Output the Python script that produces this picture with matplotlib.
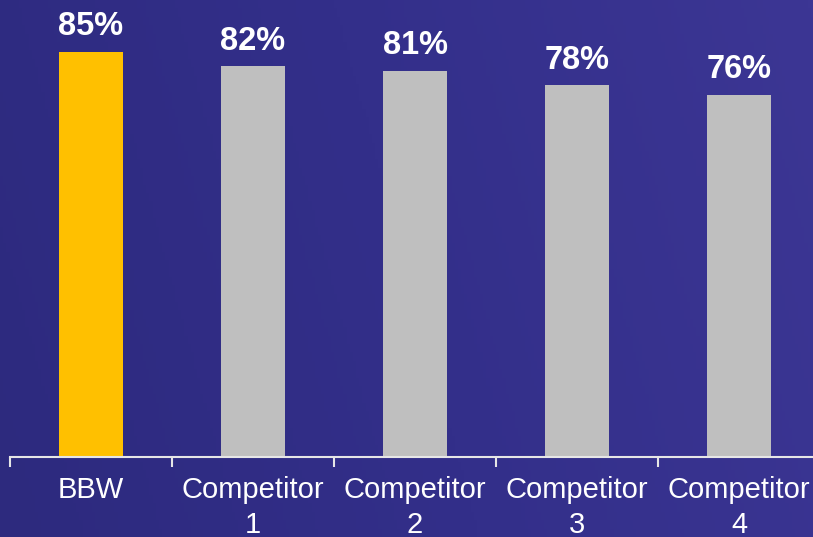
import numpy as np
import matplotlib
matplotlib.use("Agg")
import matplotlib.pyplot as plt
from matplotlib.colors import LinearSegmentedColormap

plt.rcParams['font.family'] = ['Liberation Sans', 'DejaVu Sans']

# data
categories = ['BBW', 'Competitor\n1', 'Competitor\n2', 'Competitor\n3', 'Competitor\n4']
values = [85, 82, 81, 78, 76]
bar_colors = ['#FFC000', '#BFBFBF', '#BFBFBF', '#BFBFBF', '#BFBFBF']

fig = plt.figure(figsize=(8.13, 5.37), dpi=100)

# gradient background
bg = fig.add_axes([0, 0, 1, 1], zorder=-1)
cmap = LinearSegmentedColormap.from_list('bg', ['#2D2A7E', '#332F8A', '#3C3694'])
gx = np.linspace(0, 1, 256)
gy = np.linspace(0, 1, 64)
grad = gx[None, :] * 0.85 + gy[:, None] * 0.15
bg.imshow(grad, aspect='auto', cmap=cmap, extent=[0, 1, 0, 1], origin='lower')
bg.axis('off')

ax = fig.add_axes([10 / 813, 80 / 537, 810 / 813, 457 / 537])
ax.patch.set_alpha(0)
x = np.arange(len(categories))
bars = ax.bar(x, values, width=0.4, color=bar_colors, zorder=2)

for xi, v in zip(x, values):
    ax.annotate(f'{v}%', (xi, v), xytext=(0, 7), textcoords='offset points',
                ha='center', va='bottom', color='white', fontsize=23.5, fontweight='bold')

ax.set_xlim(-0.5, len(categories) - 0.5)
ax.set_ylim(0, 95.9)

for s in ['top', 'right', 'left']:
    ax.spines[s].set_visible(False)
ax.spines['bottom'].set_color('#E6E6E6')
ax.spines['bottom'].set_linewidth(1.5)
ax.set_yticks([])

ax.set_xticks(x)
ax.set_xticklabels(categories, color='white', fontsize=21, linespacing=1.3)
ax.tick_params(axis='x', which='major', length=0, pad=14)
ax.set_xticks(np.arange(len(categories)) - 0.5, minor=True)
ax.tick_params(axis='x', which='minor', length=7, width=1.5, color='#E6E6E6', direction='out')

fig.savefig('out.png', dpi=100)
